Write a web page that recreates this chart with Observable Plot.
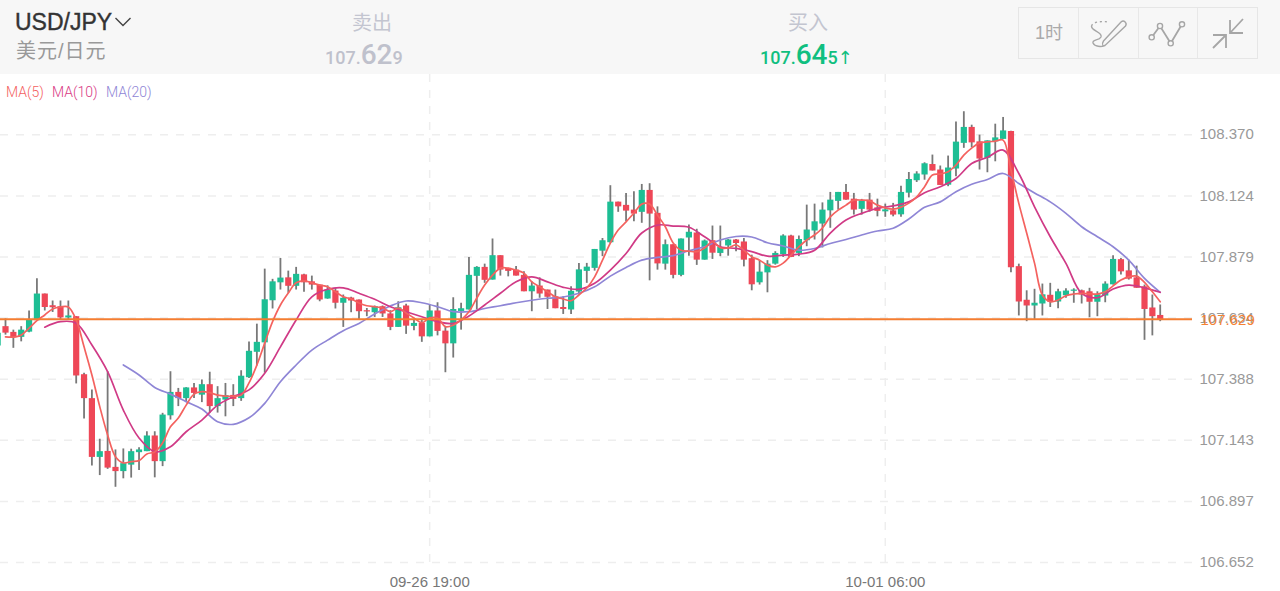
<!DOCTYPE html>
<html>
<head>
<meta charset="utf-8">
<script src="https://cdn.jsdelivr.net/npm/d3@7"></script>
<script src="https://cdn.jsdelivr.net/npm/@observablehq/plot@0.6"></script>
<style>
html,body{margin:0;padding:0;background:#fff;width:1280px;height:591px;overflow:hidden;font-family:"Liberation Sans","Noto Sans CJK SC",sans-serif}
#head{position:absolute;left:0;top:0;width:1280px;height:74px;background:#f7f7f7}
#head div,#legend span{position:absolute;white-space:nowrap}
#chart{position:absolute;left:0;top:74px}
#legend span{top:9px;font-family:Roboto,sans-serif;font-size:14px;font-weight:300;line-height:18px}
#legend{position:absolute;left:0;top:74px}
.big{font-size:28px;font-weight:500;font-family:Roboto,sans-serif}
#tools{position:absolute;left:1018px;top:7px;width:238px;height:50px;border:1px solid #e6e6e6}
#tools svg{position:absolute;left:0;top:0}
</style>
</head>
<body>
<div id="head">
  <div style="left:15px;top:8px;font-size:23px;color:#333;line-height:28px;-webkit-text-stroke:0.4px #333">USD/JPY</div>
  <svg style="position:absolute;left:114px;top:16px" width="18" height="12"><path d="M1.5 2 L9 9.5 L16.5 2" fill="none" stroke="#444" stroke-width="1.4"/></svg>
  <div style="left:16px;top:39px;font-size:20px;letter-spacing:1px;color:#999;line-height:24px">美元/日元</div>
  <div style="left:352px;top:10px;font-size:20px;color:#c3c5d0;line-height:26px">卖出</div>
  <div style="left:325px;top:37px;color:#bfc1cc;font-size:18px;line-height:36px;font-family:Roboto,sans-serif;font-weight:500">107.<span class="big">62</span>9</div>
  <div style="left:788px;top:10px;font-size:20px;color:#c3c5d0;line-height:26px">买入</div>
  <div style="left:760px;top:37px;color:#10bf80;font-size:18px;line-height:36px;font-family:Roboto,sans-serif;font-weight:500">107.<span class="big">64</span>5<span style="font-family:'DejaVu Sans',sans-serif;font-weight:400;margin-left:0">↑</span></div>
  <div id="tools">
    <svg width="238" height="50" fill="none" stroke="#a6a6a6" stroke-width="1.4">
      <path d="M59.5 0V50M119.5 0V50M178.5 0V50" stroke="#e8e8e8" stroke-width="1"/>
      <path d="M72.5 18 C74 14 80 13 91 14" stroke-dasharray="2 3"/>
      <path d="M72.5 18 C72 23 84 24 82 29 C80 33 73 31 74 35 C76 39 82 39 86 37.5 L106.5 18 C108.5 15 105 11.5 102 14 L84.5 33 C83 35 83.5 37 84 38"/>
      <path d="M132.7 29.3 L141 18 L151.7 35.3 L163 16.3" stroke-width="1.8"/>
      <circle cx="132.7" cy="29.3" r="2.6" fill="#f7f7f7"/><circle cx="141" cy="18" r="2.6" fill="#f7f7f7"/><circle cx="151.7" cy="35.3" r="2.6" fill="#f7f7f7"/><circle cx="163" cy="16.3" r="2.6" fill="#f7f7f7"/>
      <path d="M224 11 L211 25 M211 12 V25 H224 M194 27 H207 V40 M207 27 L194 40" stroke-width="1.8"/>
    </svg>
    <div style="left:16px;top:13px;font-size:18px;color:#aaa;line-height:24px">1时</div>
  </div>
</div>
<div id="chart"></div>
<div id="legend">
  <span style="left:6px;color:#f4625f">MA(5)</span>
  <span style="left:52px;color:#d93a84">MA(10)</span>
  <span style="left:106px;color:#8f86d6">MA(20)</span>
</div>
<script>
const firstCandle = -1;
const bodyHigh = [107.573,107.599,107.576,107.585,107.626,107.730,107.730,107.683,107.679,107.642,107.639,107.406,107.310,107.097,107.098,107.034,107.049,107.097,107.104,107.160,107.160,107.244,107.335,107.335,107.353,107.353,107.366,107.366,107.310,107.322,107.323,107.400,107.500,107.536,107.707,107.779,107.794,107.795,107.809,107.807,107.779,107.766,107.746,107.742,107.713,107.714,107.706,107.663,107.679,107.679,107.650,107.675,107.682,107.612,107.612,107.662,107.662,107.581,107.668,107.671,107.805,107.837,107.837,107.884,107.884,107.833,107.826,107.805,107.762,107.762,107.746,107.719,107.676,107.741,107.827,107.838,107.909,107.944,108.099,108.099,108.086,108.067,108.146,108.146,108.054,107.928,107.928,107.951,107.978,107.975,107.943,107.944,107.917,107.947,107.947,107.939,107.872,107.818,107.850,107.893,107.963,107.963,107.949,107.987,108.020,108.067,108.107,108.138,108.138,108.111,108.104,108.107,108.076,108.068,108.064,108.138,108.190,108.212,108.253,108.250,108.228,108.236,108.340,108.399,108.399,108.341,108.345,108.357,108.385,108.383,107.840,107.705,107.693,107.727,107.725,107.739,107.742,107.746,107.743,107.739,107.727,107.770,107.869,107.868,107.823,107.795,107.759,107.674,107.644];
const bodyLow = [107.521,107.573,107.554,107.556,107.577,107.623,107.676,107.675,107.634,107.634,107.401,107.310,107.074,107.074,107.031,107.017,107.017,107.043,107.093,107.097,107.057,107.057,107.241,107.310,107.310,107.331,107.324,107.278,107.278,107.304,107.307,107.310,107.394,107.496,107.534,107.703,107.775,107.761,107.761,107.775,107.766,107.706,107.710,107.693,107.693,107.702,107.659,107.658,107.655,107.650,107.596,107.596,107.601,107.600,107.558,107.558,107.580,107.530,107.530,107.660,107.666,107.801,107.785,107.786,107.826,107.821,107.802,107.739,107.739,107.730,107.717,107.671,107.668,107.666,107.738,107.821,107.833,107.902,107.936,108.080,108.063,108.051,108.058,108.051,107.851,107.850,107.805,107.805,107.955,107.866,107.866,107.894,107.893,107.923,107.933,107.866,107.767,107.775,107.815,107.850,107.888,107.877,107.893,107.944,107.983,108.011,108.064,108.102,108.107,108.067,108.070,108.067,108.062,108.060,108.047,108.048,108.135,108.185,108.208,108.224,108.166,108.167,108.232,108.335,108.337,108.272,108.275,108.341,108.351,107.836,107.698,107.682,107.682,107.690,107.698,107.698,107.723,107.741,107.726,107.697,107.697,107.722,107.767,107.819,107.790,107.753,107.668,107.639,107.625];
const high = [107.605,107.630,107.585,107.599,107.662,107.791,107.730,107.702,107.702,107.702,107.639,107.412,107.345,107.147,107.418,107.104,107.108,107.107,107.113,107.177,107.177,107.251,107.418,107.351,107.354,107.371,107.385,107.416,107.358,107.371,107.366,107.422,107.537,107.609,107.830,107.789,107.873,107.822,107.837,107.809,107.802,107.766,107.763,107.753,107.726,107.717,107.706,107.672,107.682,107.682,107.663,107.699,107.689,107.626,107.628,107.686,107.695,107.599,107.715,107.693,107.877,107.840,107.850,107.951,107.884,107.833,107.841,107.819,107.779,107.795,107.746,107.746,107.719,107.759,107.853,107.853,107.909,107.953,108.165,108.099,108.134,108.141,108.170,108.173,108.080,107.947,107.928,107.951,108.007,107.990,107.947,108.003,108.003,107.949,107.949,107.953,107.886,107.864,107.864,107.900,107.968,107.966,107.963,108.087,108.091,108.096,108.138,108.138,108.170,108.134,108.110,108.134,108.111,108.091,108.094,108.163,108.218,108.221,108.257,108.288,108.244,108.284,108.421,108.462,108.408,108.368,108.345,108.412,108.439,108.384,107.850,107.743,107.749,107.770,107.773,107.749,107.751,107.751,107.746,107.753,107.739,107.779,107.884,107.873,107.866,107.842,107.766,107.726,107.686];
const low = [107.497,107.565,107.512,107.538,107.575,107.623,107.662,107.656,107.626,107.626,107.369,107.228,107.039,107.001,107.026,106.954,106.988,106.991,107.021,107.097,106.992,107.037,107.224,107.278,107.298,107.311,107.294,107.251,107.252,107.237,107.278,107.299,107.391,107.441,107.412,107.670,107.746,107.733,107.746,107.737,107.746,107.699,107.709,107.670,107.596,107.655,107.626,107.639,107.636,107.636,107.583,107.596,107.568,107.583,107.536,107.558,107.562,107.414,107.473,107.585,107.666,107.666,107.773,107.786,107.802,107.799,107.802,107.739,107.659,107.713,107.668,107.671,107.648,107.648,107.726,107.773,107.822,107.880,107.933,108.058,108.020,108.020,108.014,107.783,107.826,107.826,107.791,107.799,107.882,107.845,107.866,107.869,107.880,107.882,107.900,107.839,107.743,107.766,107.735,107.846,107.877,107.877,107.880,107.920,107.947,107.915,107.994,108.067,108.107,108.047,108.047,108.059,108.040,108.038,108.040,108.038,108.116,108.178,108.187,108.224,108.166,108.161,108.201,108.315,108.317,108.228,108.217,108.261,108.351,107.815,107.642,107.619,107.628,107.642,107.676,107.671,107.713,107.693,107.690,107.635,107.639,107.695,107.766,107.806,107.786,107.753,107.544,107.562,107.619];
const candleColor = [1,0,0,1,1,1,0,0,0,1,0,0,0,1,0,0,1,1,1,1,0,1,1,0,1,0,1,0,1,1,0,1,1,1,1,1,1,0,1,0,0,0,1,0,1,0,0,0,1,0,0,1,0,1,0,1,0,0,1,1,1,1,0,1,0,0,0,0,1,0,0,0,0,1,1,1,1,1,1,0,0,0,1,0,0,1,0,1,1,0,1,0,1,1,0,0,0,1,1,1,1,0,1,1,1,1,1,1,0,0,1,0,0,1,0,1,1,1,1,0,0,1,1,1,0,0,1,1,1,0,0,0,1,1,0,1,1,1,0,0,1,1,1,0,0,0,0,0,0];

const ma5Start = 0;
const ma5 = [107.558,107.557,107.565,107.593,107.623,107.646,107.670,107.678,107.678,107.626,107.518,107.405,107.278,107.164,107.077,107.052,107.057,107.061,107.088,107.096,107.132,107.197,107.232,107.284,107.328,107.338,107.334,107.324,107.320,107.320,107.324,107.373,107.445,107.533,107.619,107.686,107.734,107.775,107.783,107.775,107.766,107.759,107.739,107.719,107.710,107.694,107.683,107.679,107.674,107.659,107.674,107.654,107.634,107.615,107.634,107.634,107.599,107.605,107.626,107.659,107.714,107.766,107.806,107.834,107.834,107.826,107.814,107.779,107.759,107.739,107.719,107.710,107.703,107.726,107.754,107.799,107.866,107.935,107.987,108.020,108.055,108.091,108.091,108.047,108.000,107.935,107.906,107.902,107.900,107.915,107.940,107.916,107.915,107.927,107.906,107.880,107.866,107.846,107.839,107.854,107.886,107.919,107.947,107.967,107.995,108.040,108.067,108.087,108.107,108.107,108.104,108.087,108.076,108.071,108.079,108.095,108.120,108.161,108.208,108.212,108.221,108.248,108.288,108.316,108.337,108.341,108.344,108.348,108.228,108.094,107.975,107.854,107.726,107.699,107.706,107.723,107.730,107.733,107.731,107.730,107.739,107.763,107.786,107.799,107.802,107.777,107.739,107.699];
const ma10Start = 5;
const ma10 = [107.597,107.619,107.613,107.525,107.418,107.264,107.152,107.097,107.117,107.177,107.224,107.284,107.318,107.345,107.412,107.518,107.626,107.719,107.749,107.755,107.733,107.709,107.679,107.659,107.639,107.619,107.612,107.642,107.686,107.733,107.779,107.799,107.779,107.757,107.749,107.773,107.826,107.893,107.975,108.007,108.003,107.998,107.960,107.920,107.913,107.900,107.882,107.886,107.890,107.906,107.975,108.027,108.054,108.074,108.084,108.100,108.137,108.161,108.194,108.254,108.279,108.308,108.214,108.080,107.960,107.853,107.733,107.715,107.750,107.766,107.755,107.737];
const ma20Start = 15;
const ma20 = [107.445,107.405,107.355,107.328,107.298,107.268,107.217,107.207,107.233,107.291,107.378,107.445,107.505,107.545,107.583,107.612,107.650,107.682,107.702,107.695,107.679,107.659,107.659,107.672,107.683,107.695,107.705,107.713,107.718,107.733,107.759,107.802,107.837,107.866,107.877,107.884,107.904,107.920,107.947,107.961,107.959,107.936,107.923,107.906,107.913,107.933,107.949,107.967,107.983,107.994,108.031,108.078,108.100,108.141,108.171,108.190,108.214,108.174,108.136,108.100,108.054,108.000,107.960,107.920,107.866,107.793,107.737];

const yTicks = [108.370,108.124,107.879,107.634,107.388,107.143,106.897,106.652];
const xTickIndex = [54,112];
const xTickLabels = ["09-26 19:00","10-01 06:00"];
const currentPrice = 107.629;

const candles = bodyHigh.map((t,k)=>({i:k+firstCandle,t,b:bodyLow[k],h:high[k],l:low[k],up:candleColor[k]===1}));
const lineTable = (vals,start,step)=>vals.map((v,k)=>({i:start+k*step,v}));
const GREEN="#1dbe94", RED="#ee4757", WICK="#787878";

const plot = Plot.plot({
  width:1280,height:517,
  marginLeft:0,marginRight:88,marginTop:0,marginBottom:29,
  style:{background:"transparent",fontFamily:"'Liberation Sans',sans-serif",overflow:"visible"},
  x:{domain:[-0.6365,151.11]},
  y:{domain:[106.652,108.6115]},
  marks:[
    Plot.gridY(yTicks,{stroke:"#eeeeee",strokeOpacity:1,strokeWidth:1.5,strokeDasharray:"8 8"}),
    Plot.gridX(xTickIndex,{stroke:"#eeeeee",strokeOpacity:1,strokeWidth:1.5,strokeDasharray:"8 8"}),
    Plot.axisY(yTicks,{anchor:"right",tickSize:0,tickPadding:7,label:null,fill:"#999",fontSize:15,tickFormat:d=>d.toFixed(3)}),
    Plot.axisY([currentPrice],{anchor:"right",tickSize:0,tickPadding:8,label:null,fill:"#f58233",fontSize:15,dy:1,tickFormat:d=>d.toFixed(3)}),
    Plot.axisX(xTickIndex,{anchor:"bottom",tickSize:0,tickPadding:14,label:null,fill:"#777",fontSize:15,tickFormat:d=>xTickLabels[xTickIndex.indexOf(d)]}),
    Plot.ruleX(candles,{x:"i",y1:"l",y2:"h",stroke:WICK,strokeWidth:1.8}),
    Plot.ruleX(candles,{x:"i",y1:"b",y2:"t",stroke:d=>d.up?GREEN:RED,strokeWidth:6.2}),
    Plot.line(lineTable(ma20,ma20Start,2),{x:"i",y:"v",stroke:"#8f86d6",strokeWidth:1.7,curve:"catmull-rom"}),
    Plot.line(lineTable(ma10,ma10Start,2),{x:"i",y:"v",stroke:"#d03a86",strokeWidth:1.7,curve:"catmull-rom"}),
    Plot.line(lineTable(ma5,ma5Start,1),{x:"i",y:"v",stroke:"#f4625f",strokeWidth:1.7,curve:"catmull-rom"}),
    Plot.ruleY([currentPrice],{stroke:"#f47d30",strokeWidth:1.9})
  ]
});
document.getElementById("chart").appendChild(plot);
</script>
</body>
</html>
